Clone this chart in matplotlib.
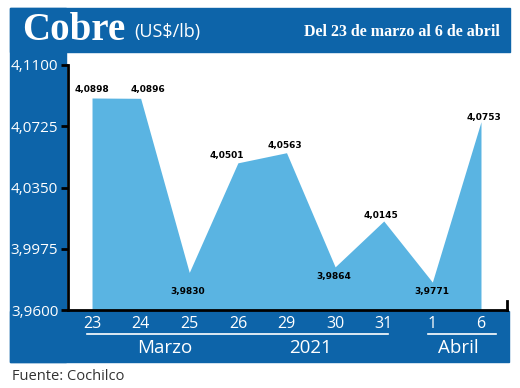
import numpy as np
import matplotlib.pyplot as plt
from matplotlib.patches import Rectangle
from matplotlib.lines import Line2D

# datos del grafico
dias = ['23', '24', '25', '26', '29', '30', '31', '1', '6']
precios = [4.0898, 4.0896, 3.9830, 4.0501, 4.0563, 3.9864, 4.0145, 3.9771, 4.0753]
etiquetas = ['4,0898', '4,0896', '3,9830', '4,0501', '4,0563', '3,9864', '4,0145', '3,9771', '4,0753']
yticks = [3.9600, 3.9975, 4.0350, 4.0725, 4.1100]
ytick_labels = ['3,9600', '3,9975', '4,0350', '4,0725', '4,1100']

# desplazamiento de cada etiqueta (puntos)
offsets = [(0, 6), (5, 6), (-1, -14), (-8, 5), (-1, 5), (-1, -7), (-2, 4), (0, -7), (2, 3)]

AZUL = '#0d64a9'
CELESTE = '#5ab4e2'
W, H = 520, 388

def fx(px):
    return px / W

def fy(py):
    return 1 - py / H

fig = plt.figure(figsize=(W / 100, H / 100), dpi=100)

# marco azul
for x0, y0, x1, y1 in [(10, 8, 510, 52), (10, 8, 66, 362), (10, 311, 509, 362)]:
    fig.patches.append(Rectangle((fx(x0), fy(y1)), fx(x1) - fx(x0), fy(y0) - fy(y1),
                                 transform=fig.transFigure, color=AZUL, zorder=-5))

# ejes
left, right, top, bottom = 68, 507, 65, 310
ax = fig.add_axes([fx(left), fy(bottom), fx(right) - fx(left), fy(top) - fy(bottom)])
ax.patch.set_alpha(0)
x = np.arange(len(dias))
ax.fill_between(x, precios, 3.96, color=CELESTE, lw=0)
ax.set_xlim(-0.494, 8.535)
ax.set_ylim(3.96, 4.11)

ax.set_yticks(yticks)
ax.set_yticklabels(ytick_labels, family='Open Sans', fontsize=11, color='white')
ax.set_xticks(x)
ax.set_xticklabels(dias, family='Open Sans', fontsize=11.5, color='white')
ax.tick_params(axis='y', length=5, width=2, pad=2, color='black')
ax.tick_params(axis='x', length=0, pad=4)
for s in ['top', 'right']:
    ax.spines[s].set_visible(False)
for s in ['left', 'bottom']:
    ax.spines[s].set_linewidth(2)
ax.plot([1, 1], [0, 0.035], transform=ax.transAxes, color='black', lw=2, clip_on=False)

for xi, yi, lab, off in zip(x, precios, etiquetas, offsets):
    ax.annotate(lab, (xi, yi), xytext=off, textcoords='offset points',
                ha='center', va='center', fontsize=6.5, fontweight='bold',
                family='DejaVu Sans', color='black')

# encabezado
fig.text(fx(22), fy(31), 'Cobre', family='Liberation Serif', fontweight='bold',
         fontsize=28, color='white', va='center')
fig.text(fx(134), fy(32), '(US$/lb)', family='Open Sans', fontsize=13,
         color='white', va='center')
fig.text(fx(500), fy(32), 'Del 23 de marzo al 6 de abril', family='Liberation Serif',
         fontweight='bold', fontsize=11.5, color='white', va='center', ha='right')

# meses
for x0, x1 in [(87, 388), (428, 496)]:
    fig.add_artist(Line2D([fx(x0), fx(x1)], [fy(334), fy(334)], color='white', lw=1.2))
for txt, px in [('Marzo', 165), ('2021', 310), ('Abril', 458)]:
    fig.text(fx(px), fy(348), txt, family='Open Sans', fontsize=13.5, color='white',
             ha='center', va='center')

fig.text(fx(12), fy(376), 'Fuente: Cochilco', family='Open Sans', fontsize=10.5,
         color='#333333', va='center')

fig.savefig('out.png', dpi=100)
